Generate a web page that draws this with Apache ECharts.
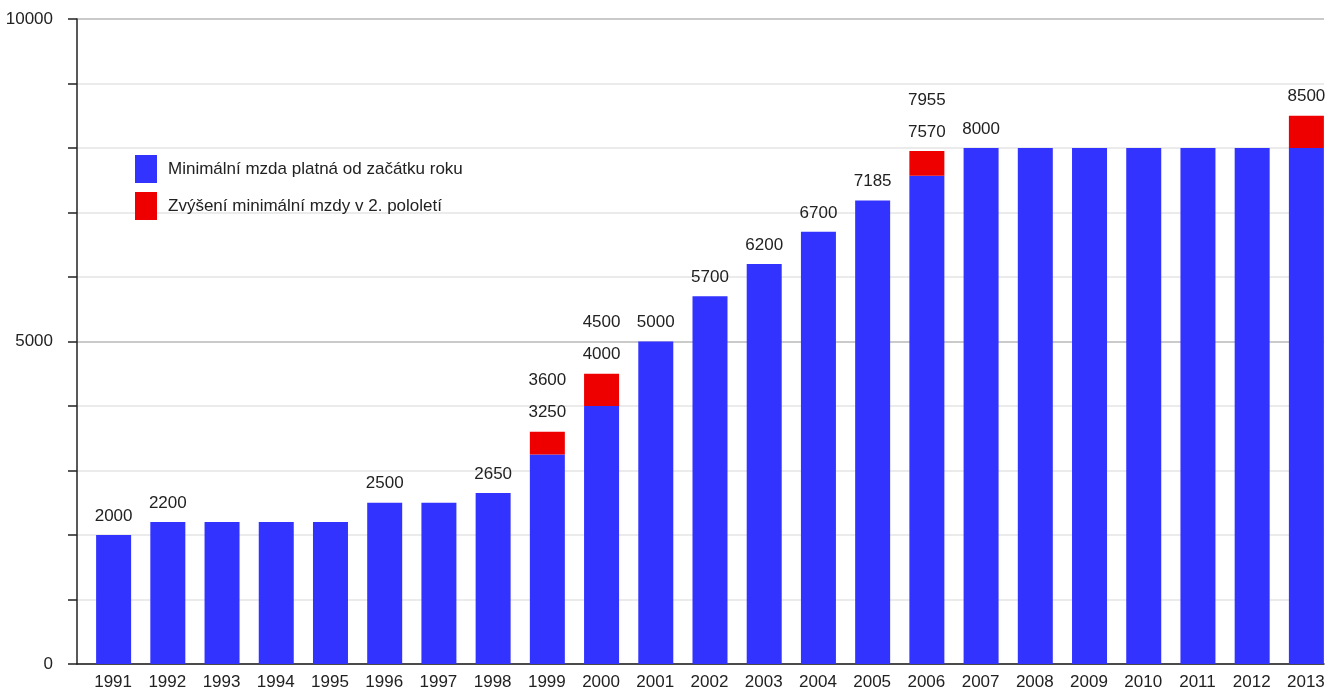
<!DOCTYPE html>
<html><head><meta charset="utf-8">
<script src="https://cdn.jsdelivr.net/npm/echarts@6/dist/echarts.min.js"></script>
<style>html,body{margin:0;padding:0;background:#fff}#c{width:1341px;height:693px}</style>
</head><body><div id="c"></div>
<script>
var years = ['1991','1992','1993','1994','1995','1996','1997','1998','1999','2000','2001','2002','2003','2004','2005','2006','2007','2008','2009','2010','2011','2012','2013'];
var baseWage = [2000,2200,2200,2200,2200,2500,2500,2650,3250,4000,5000,5700,6200,6700,7185,7570,8000,8000,8000,8000,8000,8000,8000];
var increase = [null,null,null,null,null,null,null,null,350,500,null,null,null,null,null,385,null,null,null,null,null,null,500];
var baseLabels = ['2000','2200','','','','2500','','2650','3250','4000','5000','5700','6200','6700','7185','7570','8000','','','','','',''];
var topLabels = ['','','','','','','','','3600','4500','','','','','','7955','','','','','','','8500'];
var yTicks = ['0','5000','10000'];
var nameBase = 'Minimální mzda platná od začátku roku';
var nameInc = 'Zvýšení minimální mzdy v 2. pololetí';

var FONT = '"Liberation Sans", Arial, sans-serif';
var FS = 17;
var chart = echarts.init(document.getElementById('c'), null, {renderer:'canvas'});
chart.setOption({
  animation:false,
  backgroundColor:'#fff',
  textStyle:{fontFamily:FONT},
  grid:{left:77, right:17, top:19, bottom:29, containLabel:false, outerBoundsMode:'none'},
  legend:{
    data:[nameBase, nameInc], orient:'vertical', left:130, top:150,
    itemWidth:22, itemHeight:28, itemGap:9, icon:'rect',
    textStyle:{fontFamily:FONT, fontSize:FS, color:'#222', padding:[0,0,0,6]}
  },
  xAxis:{
    type:'category', data:years, boundaryGap:true,
    axisLine:{lineStyle:{color:'#222', width:1.5}},
    axisTick:{show:false},
    axisLabel:{color:'#222', fontSize:FS, fontFamily:FONT, margin:10, interval:0, padding:[0,0,0,18]}
  },
  yAxis:{
    type:'value', min:0, max:10000, interval:1000,
    axisLine:{show:true, lineStyle:{color:'#222', width:1.5}},
    axisTick:{show:true, length:9, lineStyle:{color:'#222', width:1.5}},
    axisLabel:{color:'#222', fontSize:FS, fontFamily:FONT, margin:24,
      formatter:function(v){ var s=String(v); return yTicks.indexOf(s)>=0 ? s : ''; }},
    splitLine:{show:true, lineStyle:{color:['#b8b8b8','#e4e4e4','#e4e4e4','#e4e4e4','#e4e4e4'], width:1.5}}
  },
  series:[
    {name:'spacer', type:'bar', data:[], barWidth:19, barGap:'0%', barCategoryGap:'0%', silent:true, itemStyle:{color:'transparent'}},
    {name:nameBase, type:'bar', stack:'w', data:baseWage, barWidth:35, barGap:'0%', itemStyle:{color:'#3333ff'},
      label:{show:true, position:'top', distance:3, color:'#222', fontSize:FS, fontFamily:FONT, lineHeight:32,
        formatter:function(p){ return increase[p.dataIndex] ? '' : baseLabels[p.dataIndex]; }}},
    {name:nameInc, type:'bar', stack:'w', data:increase, barWidth:35, barGap:'0%', itemStyle:{color:'#ee0000'},
      label:{show:true, position:'top', distance:3, color:'#222', fontSize:FS, fontFamily:FONT, lineHeight:32,
        formatter:function(p){ var i=p.dataIndex; return baseLabels[i] ? topLabels[i]+'\n'+baseLabels[i] : topLabels[i]; }}}
  ]
});
</script></body></html>
